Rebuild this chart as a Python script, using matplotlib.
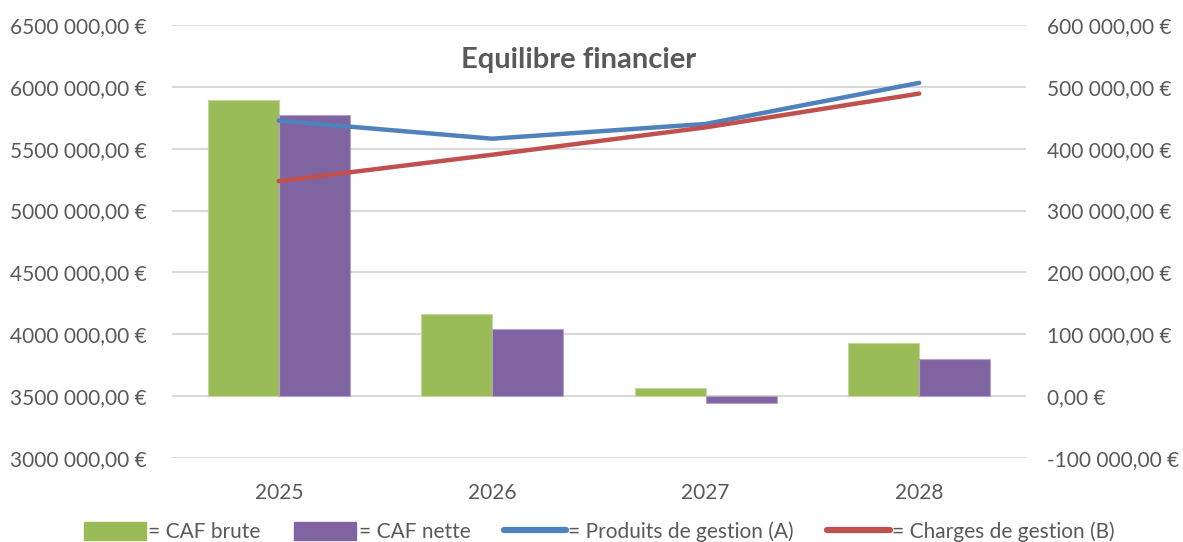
import matplotlib.pyplot as plt
import matplotlib
import numpy as np
from matplotlib.ticker import FuncFormatter, MultipleLocator
from matplotlib.patches import Patch
from matplotlib.lines import Line2D

matplotlib.rcParams["font.family"] = ["Lato", "DejaVu Sans"]

years = ["2025", "2026", "2027", "2028"]
caf_brute = [479300, 133500, 13600, 85900]
caf_nette = [454900, 108600, -10700, 60600]
produits = [5726900, 5581000, 5700200, 6032400]
charges = [5238300, 5451400, 5672600, 5945700]

GREEN = "#9BBB59"
PURPLE = "#8064A2"
BLUE = "#4F81BD"
RED = "#C0504D"
TXT = "#595959"
GRID = "#D9D9D9"


def euro(v, pos=None):
    v = int(round(v))
    sign = "-" if v < 0 else ""
    v = abs(v)
    if v >= 1000:
        return f"{sign}{v // 1000} {v % 1000:03d},00 €"
    return f"{sign}{v},00 €"


fig = plt.figure(figsize=(11.83, 5.42), dpi=100)
ax = fig.add_axes([172 / 1183, 1 - 458 / 542, (1026 - 172) / 1183, (458 - 25) / 542])
ax2 = ax.twinx()

x = np.arange(len(years))
w = 0.333
ax.bar(x - w / 2, caf_brute, w, color=GREEN, edgecolor="#C3D69B", linewidth=0.8, zorder=2)
ax.bar(x + w / 2, caf_nette, w, color=PURPLE, edgecolor="#B3A2C7", linewidth=0.8, zorder=2)
ax.set_ylim(-100000, 600000)
ax.yaxis.set_major_locator(MultipleLocator(100000))
ax.yaxis.set_major_formatter(FuncFormatter(euro))
ax.yaxis.tick_right()
ax.grid(axis="y", color=GRID, linewidth=1.5, zorder=0)
ax.set_axisbelow(True)

ax2.plot(x, produits, color=BLUE, linewidth=3.2, solid_capstyle="round", zorder=3)
ax2.plot(x, charges, color=RED, linewidth=3.2, solid_capstyle="round", zorder=3)
ax2.set_ylim(3000000, 6500000)
ax2.yaxis.set_major_locator(MultipleLocator(500000))
ax2.yaxis.set_major_formatter(FuncFormatter(euro))
ax2.yaxis.tick_left()

ax.set_xlim(-0.5, 3.5)
ax.set_xticks(x)
ax.set_xticklabels(years)

for a in (ax, ax2):
    for s in a.spines.values():
        s.set_visible(False)
    a.tick_params(length=0, labelsize=15, labelcolor=TXT)
ax.tick_params(axis="x", pad=18)
ax.tick_params(axis="y", pad=15)
ax2.tick_params(axis="y", pad=18)

fig.text(579 / 1183, 1 - 60 / 542, "Equilibre financier", ha="center", va="center",
         fontsize=21, fontweight="bold", color=TXT)

handles = [
    Patch(facecolor=GREEN, edgecolor=GREEN),
    Patch(facecolor=PURPLE, edgecolor=PURPLE),
    Line2D([0], [0], color=BLUE, linewidth=4.5, solid_capstyle="round"),
    Line2D([0], [0], color=RED, linewidth=4.5, solid_capstyle="round"),
]
labels = ["= CAF brute", "= CAF nette", "= Produits de gestion (A)", "= Charges de gestion (B)"]
fig.legend(handles, labels, loc="center", bbox_to_anchor=(599 / 1183, 1 - 532 / 542), ncol=4,
           frameon=False, fontsize=15, labelcolor=TXT, handlelength=3.0, handleheight=0.9,
           handletextpad=0.1, columnspacing=1.6)

fig.savefig("out.png", dpi=100)
